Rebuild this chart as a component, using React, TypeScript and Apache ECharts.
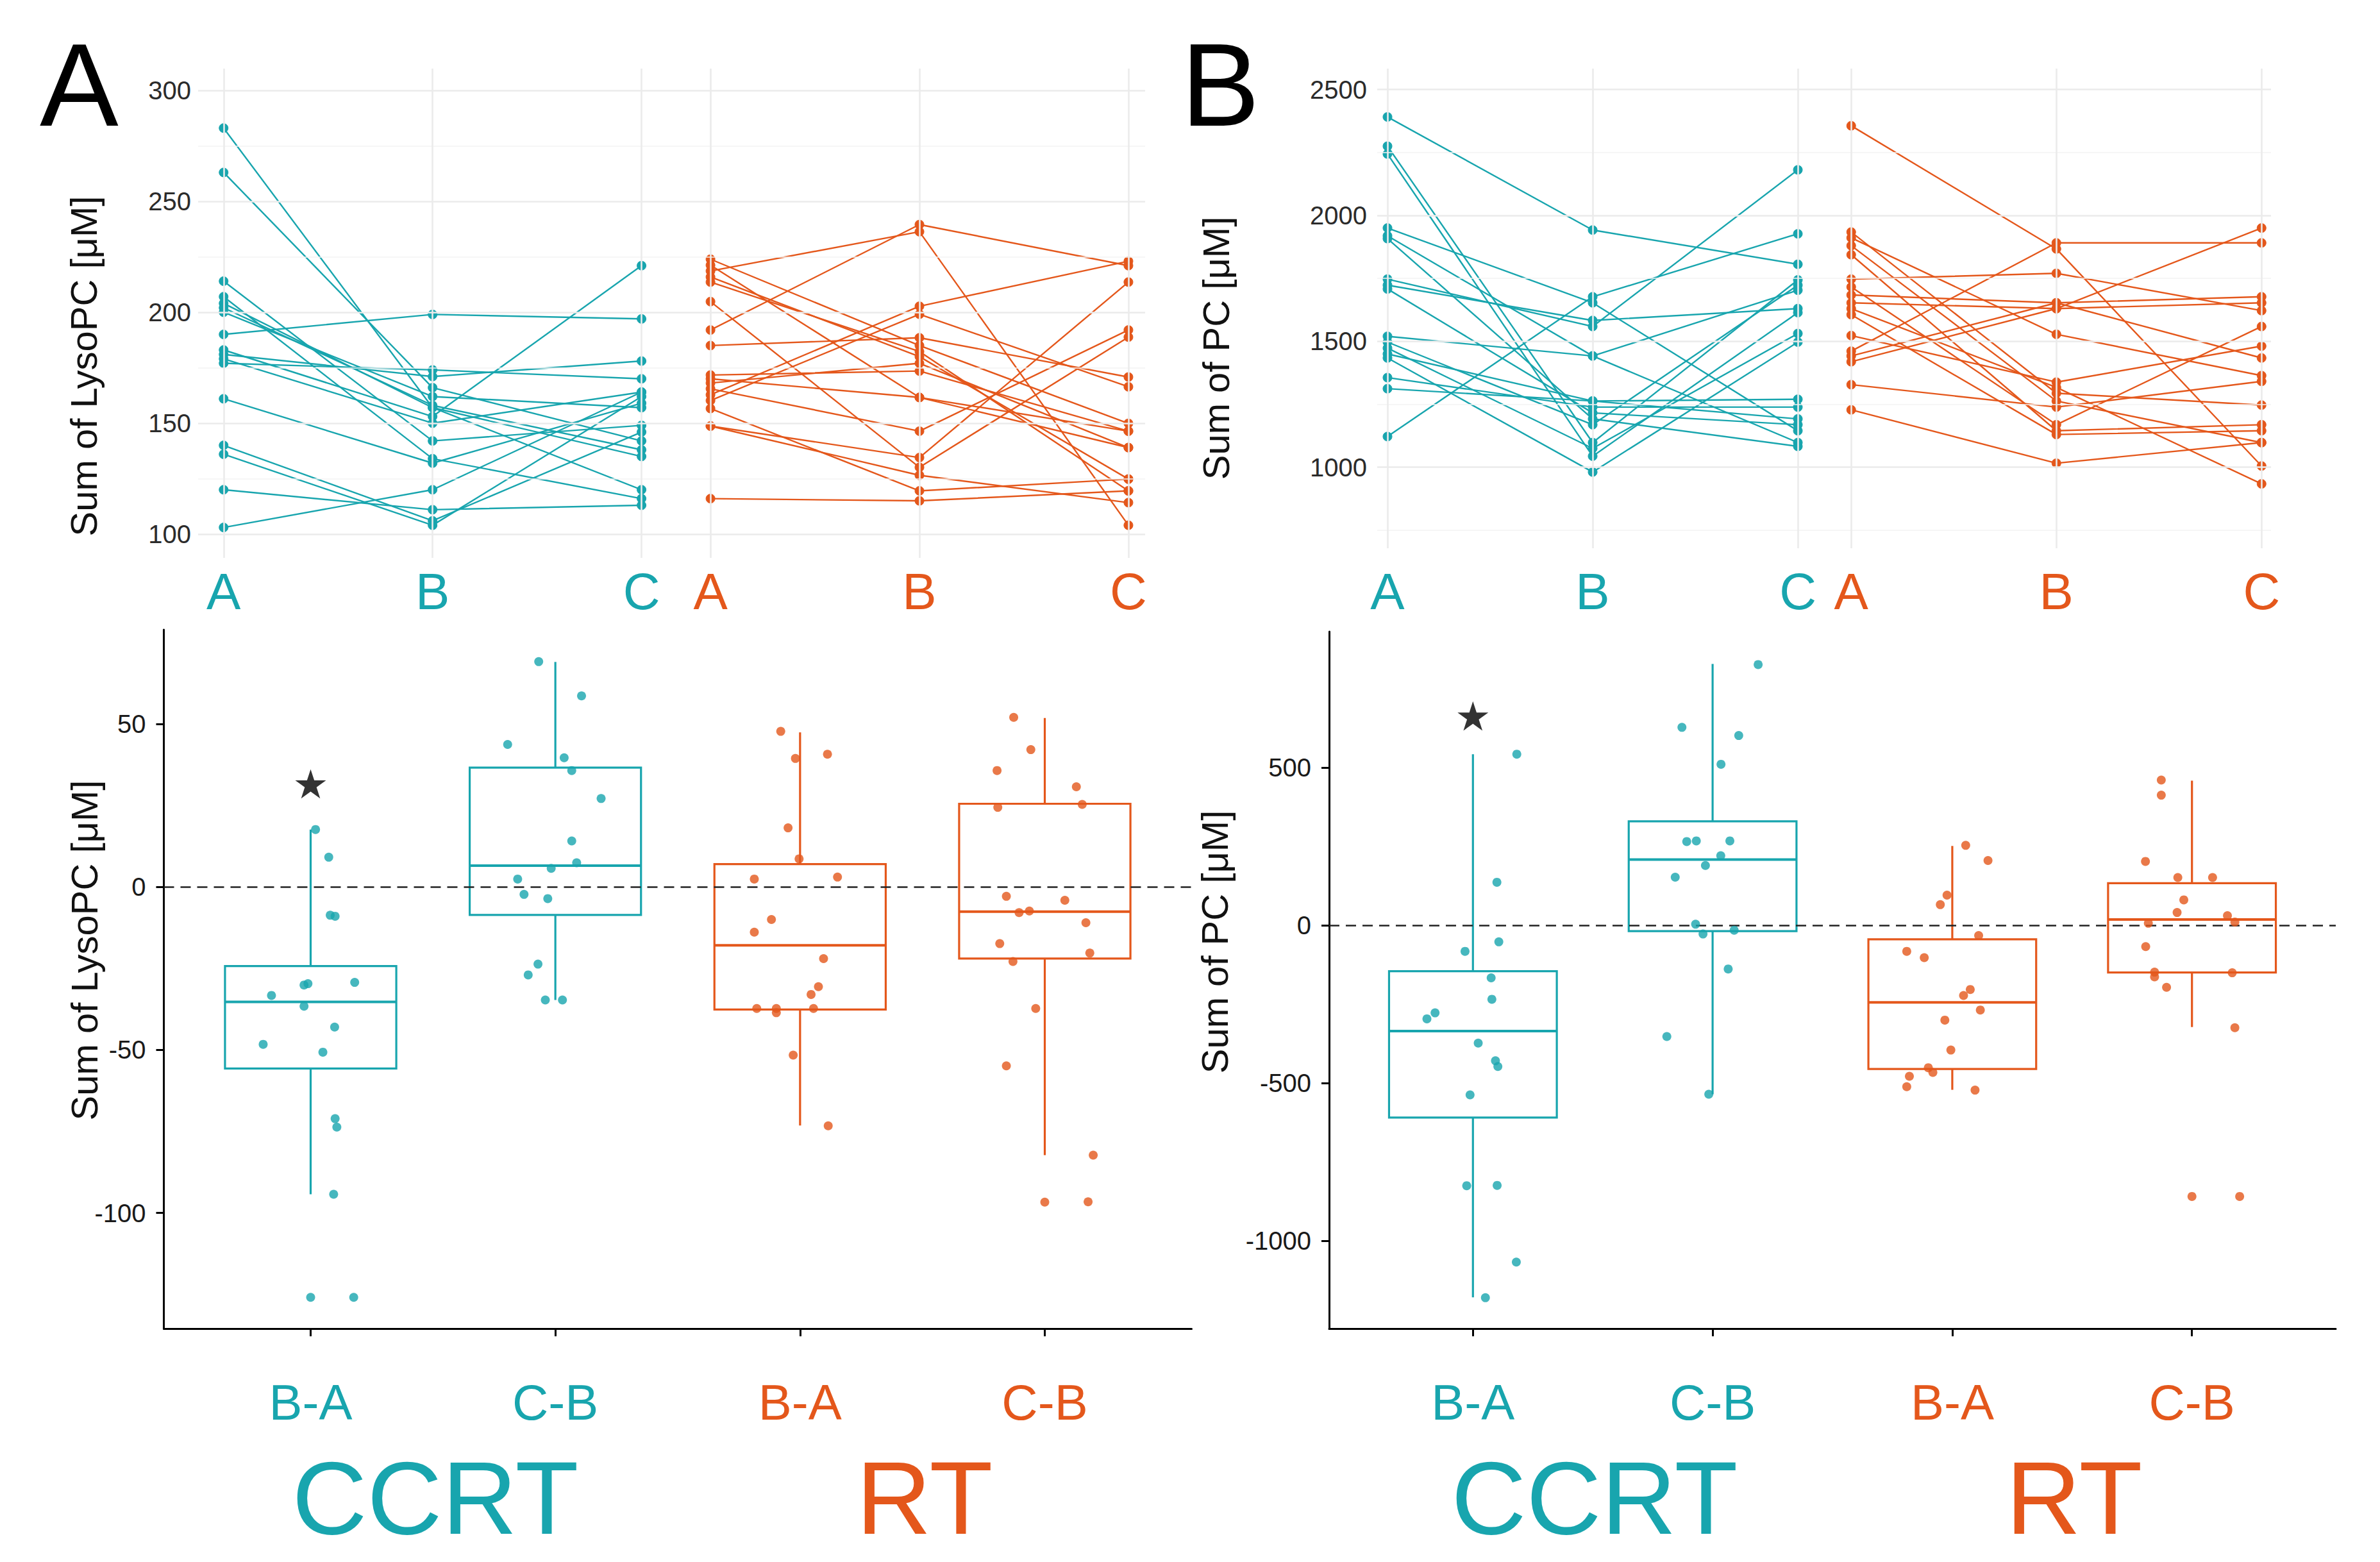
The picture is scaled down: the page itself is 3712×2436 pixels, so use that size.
import React, { useEffect, useRef } from 'react';
import * as echarts from 'echarts';

const TEAL = '#18A5AE';
const ORANGE = '#E4571B';
const FONT = '"Liberation Sans", Arial, Helvetica, sans-serif';

// ---------- top panels: time points ----------
const timeLabels = ['A', 'B', 'C'];
const ccrtXA = [1, 2, 3];
const rtXA = [3.33, 4.33, 5.33];
const ccrtXB = [1, 2, 3];
const rtXB = [3.26, 4.26, 5.26];

// Panel A (Sum of LysoPC), each row: [A, B, C]
const lysoCCRT = [
  [283, 157, 120], [263, 166, 142], [214, 142, 149], [207, 134, 116],
  [204, 157, 135], [202, 158, 138], [200, 162, 157], [190, 199, 197],
  [183, 153, 221], [181, 171, 178], [179, 150, 164], [177, 174, 170],
  [161, 132, 159], [140, 106, 146], [136, 104, 162], [120, 111, 113],
  [103, 120, 164],
];
const lysoRT = [
  [192, 239.5, 221], [218.6, 236.3, 104], [162.8, 202.7, 223], [160.2, 199.1, 166.4],
  [185, 188.5, 170.8], [171.7, 173.5, 146.4], [168.1, 177, 139], [223.9, 185, 149.9],
  [213.6, 182.3, 119.5], [215.9, 180, 124.8], [204.8, 130.1, 188.8], [165.5, 146.4, 192],
  [156.6, 119.5, 124.8], [148.7, 134.5, 213.6], [148.7, 126.5, 114.2], [116, 115, 119.5],
  [221.2, 161.6, 146.4], [170, 161.6, 139],
];
// Panel B (Sum of PC)
const pcCCRT = [
  [2391, 1942, 1806], [2275, 1098, 1744], [2244, 1044, 1614], [1950, 1653, 1145],
  [1919, 1442, 1098], [1908, 1192, 1083], [1747, 1559, 2181], [1723, 1583, 1630],
  [1708, 1216, 1169], [1520, 1442, 1703], [1497, 1169, 1723], [1473, 1075, 1531],
  [1450, 1263, 1192], [1434, 981, 1497], [1356, 1239, 1239], [1312, 1263, 1270],
  [1122, 1677, 1927],
];
const pcRT = [
  [2356, 1867, 1005], [1934, 1294, 1247], [1911, 1528, 1364], [1880, 1263, 1098],
  [1844, 1145, 1169], [1747, 1770, 1622], [1716, 1169, 1559], [1684, 1653, 1677],
  [1653, 1630, 1653], [1630, 1317, 934], [1606, 1130, 1145], [1523, 1338, 1481],
  [1461, 1891, 1891], [1442, 1653, 1434], [1419, 1630, 1950], [1328, 1239, 1341],
  [1228, 1016, 1098],
];

const topTicksA = [100, 150, 200, 250, 300];
const topMinorA = [125, 175, 225, 275];
const topTicksB = [1000, 1500, 2000, 2500];
const topMinorB = [750, 1250, 1750, 2250];

// ---------- bottom panels: differences ----------
const diffLabels = ['B-A', 'C-B', 'B-A', 'C-B'];
const diffX = [1, 2, 3, 4];
const diffGroup = [0, 0, 1, 1];
const groupNames = ['CCRT', 'RT'];

// box stats: [lower whisker, Q1, median, Q3, upper whisker]
const boxStatsA = [
  [-94.3, -55.7, -35.3, -24.3, 17.6],
  [-34.7, -8.6, 6.5, 36.6, 69.0],
  [-73.2, -37.6, -17.9, 7.0, 47.4],
  [-82.3, -22.0, -7.6, 25.5, 51.8],
];
const outliersA = [[1, -125.9], [4, -96.7]];
const starA = [[1, 31.6]];

const jitterDxA = [
  [0.02, 0.074, 0.08, 0.1, 0.18, -0.027, -0.011, -0.16, -0.027, 0.098, -0.194, 0.05, 0.1, 0.107, 0.094, 0.176],
  [-0.068, 0.107, -0.195, 0.036, 0.067, 0.187, 0.067, 0.087, -0.017, -0.154, -0.128, -0.031, -0.071, -0.111, -0.041, 0.029],
  [-0.079, 0.112, -0.019, -0.049, -0.004, 0.153, -0.187, -0.117, -0.187, 0.096, 0.075, 0.045, -0.177, -0.097, -0.097, 0.055, -0.028, 0.115],
  [-0.127, -0.057, -0.195, 0.129, -0.192, 0.153, -0.157, 0.082, -0.105, -0.063, 0.168, -0.184, 0.184, -0.13, -0.037, -0.157, 0.198, 0.177],
];
const jitterValA = [
  [17.6, 9.1, -8.7, -9.0, -29.3, -30.1, -29.7, -33.3, -36.6, -43, -48.3, -50.7, -71.1, -73.7, -94.3, -125.9],
  [69.1, 58.6, 43.7, 39.6, 35.7, 27.1, 14.1, 7.4, 5.7, 2.4, -2.3, -3.6, -23.7, -27, -34.7, -34.7],
  [47.7, 40.7, 39.4, 18.1, 8.6, 3.0, 2.4, -10, -13.9, -22, -30.6, -33, -37.3, -37.3, -38.6, -37.3, -51.6, -73.3],
  [52, 42.1, 35.7, 30.7, 24.4, 25.3, -2.9, -4.1, -7.9, -7.4, -11, -17.4, -20.3, -22.9, -37.3, -54.9, -82.3, -96.6],
];

const boxStatsB = [
  [-1180, -610, -336, -146, 542],
  [-536, -19, 208, 329, 828],
  [-522, -456, -245, -45, 251],
  [-323, -150, 18, 133, 458],
];
const outliersB = [[4, -860]];
const starB = [[1, 663]];

const jitterDxB = [
  [0.183, 0.1, 0.108, -0.033, 0.076, 0.079, -0.158, -0.192, 0.022, 0.094, 0.104, -0.012, -0.026, 0.101, 0.181, 0.052],
  [0.19, -0.128, 0.109, 0.035, -0.108, -0.068, 0.072, 0.034, -0.03, -0.156, -0.071, -0.04, 0.09, 0.065, -0.191, -0.016],
  [0.056, 0.149, -0.022, -0.05, 0.11, -0.19, -0.117, 0.075, 0.047, 0.117, -0.031, -0.006, -0.1, -0.081, -0.179, -0.19, 0.095],
  [-0.128, -0.128, -0.194, -0.059, 0.086, -0.034, -0.062, 0.148, 0.179, -0.182, -0.193, -0.156, -0.156, 0.168, -0.106, 0.179, 0.199],
];
const jitterValB = [
  [542, 136, -53, -83, -167, -235, -278, -297, -374, -430, -448, -538, -826, -825, -1068, -1181],
  [826, 627, 601, 510, 265, 267, 267, 220, 189, 152, 3, -28, -16, -139, -353, -536],
  [253, 205, 95, 65, -33, -83, -103, -204, -223, -269, -301, -396, -452, -467, -479, -512, -523],
  [460, 412, 202, 151, 151, 80, 40, 30, 10, 6, -68, -149, -164, -151, -197, -325, -860],
];

const bottomTicksA = [-100, -50, 0, 50];
const bottomTicksB = [-1000, -500, 0, 500];

const BOX_WIDTH = 0.7;
const STAR = 'path://M50,0L61.23,34.55L97.55,34.55L68.17,55.9L79.39,90.45L50,69.1L20.61,90.45L31.83,55.9L2.45,34.55L38.77,34.55Z';

const plain = (v: number) => String(v);

function topXAxis(gridIndex: number, min: number, max: number, ccrtX: number[], rtX: number[], margin: number) {
  const pos = [...ccrtX, ...rtX];
  return {
    type: 'value', gridIndex, min, max,
    axisLine: { show: false }, axisTick: { show: false }, splitLine: { show: false },
    axisLabel: {
      customValues: pos, margin, fontFamily: FONT,
      formatter: (v: number) => {
        const i = pos.findIndex((p) => Math.abs(p - v) < 1e-6);
        if (i < 0) return '';
        return `{${i < 3 ? 'c' : 'r'}|${timeLabels[i % 3]}}`;
      },
      rich: {
        c: { color: TEAL, fontSize: 80, fontFamily: FONT },
        r: { color: ORANGE, fontSize: 80, fontFamily: FONT },
      },
    },
  };
}

function topYAxis(gridIndex: number, min: number, max: number, ticks: number[], margin: number) {
  return {
    type: 'value', gridIndex, min, max,
    axisLine: { show: false }, axisTick: { show: false }, splitLine: { show: false },
    axisLabel: { customValues: ticks, formatter: plain, color: '#2b2b2b', fontSize: 40, fontFamily: FONT, margin },
  };
}

function topSeries(idx: number, ccrt: number[][], rt: number[][], ccrtX: number[], rtX: number[], majors: number[], minors: number[]) {
  const vx = [...ccrtX, ...rtX];
  const grid: any = {
    type: 'line', xAxisIndex: idx, yAxisIndex: idx, data: [[ccrtX[0], majors[1]]],
    showSymbol: false, lineStyle: { opacity: 0 }, silent: true, z: 1,
    markLine: {
      silent: true, symbol: ['none', 'none'], label: { show: false }, animation: false,
      data: [
        ...minors.map((v) => ({ yAxis: v, lineStyle: { color: '#f3f3f3', width: 1.6, type: 'solid' } })),
        ...majors.map((v) => ({ yAxis: v, lineStyle: { color: '#ebebeb', width: 2.6, type: 'solid' } })),
        ...vx.map((v) => ({ xAxis: v, lineStyle: { color: '#ebebeb', width: 2.6, type: 'solid' } })),
      ],
    },
  };
  const mk = (rows: number[][], xs: number[], color: string) =>
    rows.map((r) => ({
      type: 'line', xAxisIndex: idx, yAxisIndex: idx,
      data: r.map((v, i) => [xs[i], v]),
      symbol: 'circle', symbolSize: 14, showSymbol: true,
      lineStyle: { color, width: 2.4 },
      itemStyle: { color, borderColor: color, borderWidth: 1, opacity: 1 },
      z: 3, silent: true,
    }));
  return [grid, ...mk(ccrt, ccrtX, TEAL), ...mk(rt, rtX, ORANGE)];
}

function bottomXAxis(gridIndex: number) {
  return {
    type: 'value', gridIndex, min: 0.4, max: 4.6,
    axisLine: { show: true, onZero: false, lineStyle: { color: '#000', width: 3 } },
    axisTick: { show: true, customValues: diffX, length: 12, lineStyle: { color: '#000', width: 3 } },
    splitLine: { show: false },
    axisLabel: {
      customValues: diffX, margin: 76, fontFamily: FONT,
      formatter: (v: number) => {
        const i = diffX.findIndex((p) => Math.abs(p - v) < 1e-6);
        if (i < 0) return '';
        return `{${diffGroup[i] === 0 ? 'c' : 'r'}|${diffLabels[i]}}`;
      },
      rich: {
        c: { color: TEAL, fontSize: 78, fontFamily: FONT },
        r: { color: ORANGE, fontSize: 78, fontFamily: FONT },
      },
    },
  };
}

function bottomYAxis(gridIndex: number, min: number, max: number, ticks: number[]) {
  return {
    type: 'value', gridIndex, min, max,
    axisLine: { show: true, onZero: false, lineStyle: { color: '#000', width: 3 } },
    axisTick: { show: true, customValues: ticks, length: 12, lineStyle: { color: '#000', width: 3 } },
    splitLine: { show: false },
    axisLabel: { customValues: ticks, formatter: plain, color: '#1a1a1a', fontSize: 40, fontFamily: FONT, margin: 28 },
  };
}

function bottomSeries(idx: number, stats: number[][], dx: number[][], vals: number[][], outliers: number[][], star: number[][]) {
  const boxData = stats.map((s, k) => [diffX[k], ...s, diffGroup[k]]);
  const box = {
    type: 'custom', xAxisIndex: idx, yAxisIndex: idx, data: boxData, z: 3, silent: true,
    encode: { x: 0, y: [1, 2, 3, 4, 5] },
    renderItem: (params: any, api: any) => {
      const x = api.value(0);
      const lo = api.value(1), q1 = api.value(2), med = api.value(3), q3 = api.value(4), hi = api.value(5);
      const color = api.value(6) === 0 ? TEAL : ORANGE;
      const half = api.size([BOX_WIDTH, 0])[0] / 2;
      const pLo = api.coord([x, lo]);
      const pQ1 = api.coord([x, q1]);
      const pMed = api.coord([x, med]);
      const pQ3 = api.coord([x, q3]);
      const pHi = api.coord([x, hi]);
      const st = { stroke: color, lineWidth: 3.2, fill: 'none' };
      return {
        type: 'group',
        children: [
          { type: 'line', shape: { x1: pLo[0], y1: pLo[1], x2: pQ1[0], y2: pQ1[1] }, style: st },
          { type: 'line', shape: { x1: pQ3[0], y1: pQ3[1], x2: pHi[0], y2: pHi[1] }, style: st },
          { type: 'rect', shape: { x: pQ3[0] - half, y: pQ3[1], width: 2 * half, height: pQ1[1] - pQ3[1] }, style: { stroke: color, lineWidth: 3.2, fill: 'rgba(0,0,0,0)' } },
          { type: 'line', shape: { x1: pMed[0] - half, y1: pMed[1], x2: pMed[0] + half, y2: pMed[1] }, style: { stroke: color, lineWidth: 4 } },
        ],
      };
    },
  };
  const jit = (g: number, color: string) => {
    const pts: number[][] = [];
    diffX.forEach((cx, k) => {
      if (diffGroup[k] !== g) return;
      dx[k].forEach((d, j) => pts.push([cx + d, vals[k][j]]));
    });
    return {
      type: 'scatter', xAxisIndex: idx, yAxisIndex: idx, data: pts,
      symbol: 'circle', symbolSize: 14, itemStyle: { color }, z: 5, silent: true,
    };
  };
  const outl = {
    type: 'scatter', xAxisIndex: idx, yAxisIndex: idx,
    data: outliers.map((o) => ({ value: o, itemStyle: { color: diffGroup[diffX.indexOf(o[0])] === 0 ? TEAL : ORANGE } })),
    symbol: 'circle', symbolSize: 14, z: 5, silent: true,
    markLine: {
      silent: true, symbol: ['none', 'none'], label: { show: false }, animation: false,
      data: [{ yAxis: 0, lineStyle: { color: '#222', width: 2.6, type: [16, 10] } }],
    },
  };
  const st = {
    type: 'scatter', xAxisIndex: idx, yAxisIndex: idx, data: star,
    symbol: STAR, symbolSize: 48, symbolKeepAspect: true, itemStyle: { color: '#000' }, z: 6, silent: true,
  };
  return [box, jit(0, TEAL), jit(1, ORANGE), outl, st];
}

function vText(text: string, x: number, y: number) {
  return {
    type: 'text', x, y, rotation: Math.PI / 2,
    style: { text, fill: '#111', fontSize: 58, fontFamily: FONT, align: 'center', verticalAlign: 'middle' },
  };
}
function hText(text: string, x: number, y: number, size: number, color: string) {
  return {
    type: 'text', x, y,
    style: { text, fill: color, fontSize: size, fontFamily: FONT, align: 'center', verticalAlign: 'middle' },
  };
}

export default function App() {
  const ref = useRef<HTMLDivElement>(null);
  useEffect(() => {
    document.body.style.margin = '0';
    if (!ref.current) return;
    const chart = echarts.init(ref.current, undefined, { renderer: 'svg' });
    const option: any = {
      animation: false,
      backgroundColor: '#ffffff',
      textStyle: { fontFamily: FONT },
      grid: [
        { left: 309, top: 107, width: 1477, height: 763 },
        { left: 2148, top: 107, width: 1394, height: 748 },
        { left: 255.5, top: 982, width: 1603, height: 1090 },
        { left: 2073, top: 985, width: 1570, height: 1087 },
      ],
      xAxis: [
        topXAxis(0, 0.878, 5.41, ccrtXA, rtXA, 12),
        topXAxis(1, 0.95, 5.306, ccrtXB, rtXB, 27),
        bottomXAxis(2),
        bottomXAxis(3),
      ],
      yAxis: [
        topYAxis(0, 89.3, 309.8, topTicksA, 11),
        topYAxis(1, 678.4, 2583, topTicksB, 16),
        bottomYAxis(2, -135.5, 78.9, bottomTicksA),
        bottomYAxis(3, -1278.9, 930.5, bottomTicksB),
      ],
      series: [
        ...topSeries(0, lysoCCRT, lysoRT, ccrtXA, rtXA, topTicksA, topMinorA),
        ...topSeries(1, pcCCRT, pcRT, ccrtXB, rtXB, topTicksB, topMinorB),
        ...bottomSeries(2, boxStatsA, jitterDxA, jitterValA, outliersA, starA),
        ...bottomSeries(3, boxStatsB, jitterDxB, jitterValB, outliersB, starB),
      ],
      graphic: [
        { type: 'text', x: 62, y: 132, style: { text: 'A', fill: '#000', fontSize: 184, fontFamily: FONT, verticalAlign: 'middle' } },
        { type: 'text', x: 1842, y: 132, style: { text: 'B', fill: '#000', fontSize: 184, fontFamily: FONT, verticalAlign: 'middle' } },
        vText('Sum of LysoPC [μM]', 130, 571),
        vText('Sum of PC [μM]', 1896, 543),
        vText('Sum of LysoPC [μM]', 131, 1482),
        vText('Sum of PC [μM]', 1894, 1469),
        hText(groupNames[0], 679, 2335, 162, TEAL),
        hText(groupNames[1], 1442, 2335, 162, ORANGE),
        hText(groupNames[0], 2487, 2335, 162, TEAL),
        hText(groupNames[1], 3235, 2335, 162, ORANGE),
      ],
    };
    chart.setOption(option);
    return () => chart.dispose();
  }, []);
  return <div ref={ref} style={{ width: 3712, height: 2436 }} />;
}
